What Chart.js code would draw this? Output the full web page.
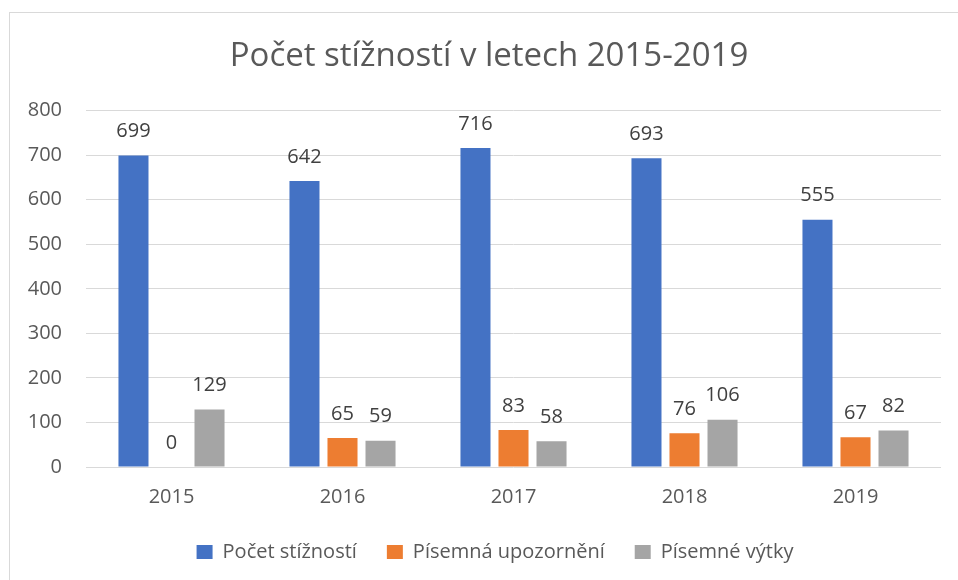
<!DOCTYPE html>
<html><head><meta charset="utf-8">
<script src="https://cdn.jsdelivr.net/npm/chart.js@4/dist/chart.umd.min.js"></script>
<style>
html,body{margin:0;padding:0;background:#fff;}
#frame{position:absolute;left:9px;top:12px;width:960px;height:600px;border:1px solid #d9d9d9;box-sizing:border-box;}
#wrap{position:absolute;left:0;top:0;width:958px;height:580px;}
</style></head>
<body>
<div id="frame"></div>
<div id="wrap"><canvas id="c" width="958" height="580"></canvas></div>
<script>
const categories = ["2015","2016","2017","2018","2019"];
const pocetStiznosti = [699,642,716,693,555];
const pisemnaUpozorneni = [0,65,83,76,67];
const pisemneVytky = [129,59,58,106,82];
const seriesNames = ["Počet stížností","Písemná upozornění","Písemné výtky"];
const FONT = "'Open Sans', Lato, sans-serif";
const TXT = "#595959";

const labelPlugin = {
  id:'valueLabels',
  afterDatasetsDraw(chart){
    const ctx = chart.ctx;
    ctx.save();
    ctx.font = "20px " + FONT;
    ctx.fillStyle = "#404040";
    ctx.textAlign = "center";
    ctx.textBaseline = "bottom";
    chart.data.datasets.forEach((ds,i)=>{
      chart.getDatasetMeta(i).data.forEach((bar,j)=>{
        ctx.fillText(String(ds.data[j]), bar.x, bar.y - 14);
      });
    });
    ctx.restore();
  }
};

// centre the title and legend on the outer frame rather than the canvas
const blockShift = {
  id:'blockShift',
  afterLayout(chart){
    const t = chart.titleBlock;
    if (t) { t.left = 20; t.right = 958; t.width = 938; }
    const l = chart.legend;
    if (l) { l.left = 32; l.right = 958; l.width = 926; }
  }
};

new Chart(document.getElementById('c'), {
  type:'bar',
  data:{
    labels:categories,
    datasets:[
      {label:seriesNames[0], data:pocetStiznosti, backgroundColor:'#4472C4'},
      {label:seriesNames[1], data:pisemnaUpozorneni, backgroundColor:'#ED7D31'},
      {label:seriesNames[2], data:pisemneVytky, backgroundColor:'#A5A5A5'}
    ]
  },
  options:{
    responsive:false,
    animation:false,
    devicePixelRatio:1,
    layout:{padding:{left:0,right:17,top:14,bottom:8}},
    datasets:{bar:{categoryPercentage:0.667,barPercentage:0.79}},
    plugins:{
      title:{display:true,text:"Počet stížností v letech 2015-2019",color:TXT,
        font:{family:FONT,size:33,weight:'normal'},padding:{top:23,bottom:34}},
      legend:{position:'bottom',labels:{color:TXT,font:{family:FONT,size:20},
        boxWidth:16,boxHeight:14,padding:30}},
      tooltip:{enabled:false}
    },
    scales:{
      x:{grid:{display:false,drawTicks:false},border:{display:false},
        ticks:{color:TXT,font:{family:FONT,size:20},padding:18},
        afterFit(s){s.height=45;}},
      y:{min:0,max:800,ticks:{stepSize:100,color:TXT,font:{family:FONT,size:20},padding:24},
        grid:{color:'#d9d9d9',drawTicks:false,lineWidth:1},border:{display:false},
        afterFit(s){s.width=86;}}
    }
  },
  plugins:[labelPlugin, blockShift]
});
</script>
</body></html>
